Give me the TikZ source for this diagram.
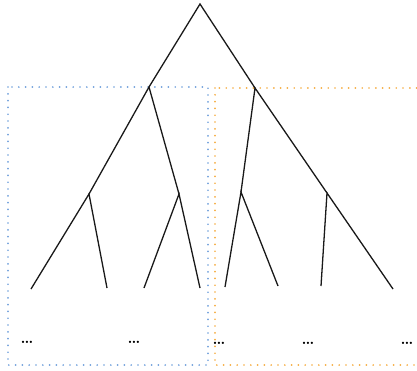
\documentclass[tikz,border=0pt]{standalone}
\usepackage{tikz}
\usetikzlibrary{positioning}
\definecolor{tblue}{HTML}{6F9FDB}
\definecolor{torange}{HTML}{F5AC40}

\begin{document}
\begin{tikzpicture}[x=1pt, y=-1pt,
  edge/.style={black!90, line width=1.3pt},
  grp/.style={line width=1.9pt, line cap=round, dash pattern=on 0pt off 6.8pt},
  gap/.style={font=\fontsize{16}{18}\selectfont\bfseries, inner sep=0pt}]
  \useasboundingbox (0,0) rectangle (417,370);

  %% Group frames
  \draw[grp, tblue] (8,87) rectangle (208,365);
  \draw[grp, torange] (215,88) rectangle (440,365);

  %% Tree points
  \coordinate (root) at (200,4);
  \coordinate (l)  at (149,87);
  \coordinate (r)  at (255,88);
  \coordinate (ll) at (89,194);
  \coordinate (lr) at (179,194);
  \coordinate (rl) at (241,192);
  \coordinate (rr) at (327,193);
  \foreach \n/\x/\y in {lla/31/289, llb/107/288, lra/144/288, lrb/200/288,
                        rla/225/287, rlb/278/286, rra/321/286, rrb/393/289} {
    \coordinate (\n) at (\x,\y);
  }

  %% Branches
  \draw[edge] (l) -- (root) -- (r);
  \draw[edge] (ll) -- (l) -- (lr);
  \draw[edge] (rl) -- (r) -- (rr);
  \foreach \p in {ll,lr,rl,rr} {
    \draw[edge] (\p a) -- (\p) -- (\p b);
  }

  %% Elided subtrees
  \foreach \n/\x/\y in {dotsA/27/342, dotsB/134/342, dotsC/219/343, dotsD/308/343, dotsE/407/343} {
    \node[gap] (\n) at (\x,\y) {\ldots};
  }

\end{tikzpicture}
\end{document}
